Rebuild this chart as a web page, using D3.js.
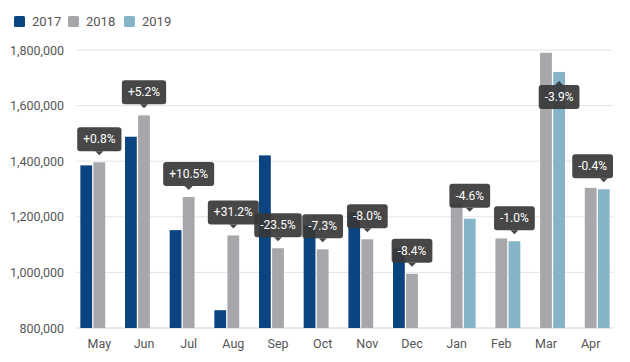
<!DOCTYPE html>
<html>
<head>
<meta charset="utf-8">
<script src="https://cdn.jsdelivr.net/npm/d3@7"></script>
<style>
  body { margin: 0; background: #fff; }
  svg { font-family: Roboto, "Noto Sans", sans-serif; }
</style>
</head>
<body>
<div id="chart"></div>
<script>
const months = ["May", "Jun", "Jul", "Aug", "Sep", "Oct", "Nov", "Dec", "Jan", "Feb", "Mar", "Apr"];
const years = ["2017", "2018", "2019"];
const colors = ["#0b4480", "#a7a7ab", "#85b4c9"];
// null = no bar for that month
const v2017 = [1385000, 1488000, 1152000, 864000, 1421000, 1169000, 1216000, 1086000, null, null, null, null];
const v2018 = [1396000, 1565000, 1271000, 1133000, 1087000, 1083000, 1119000, 995000, 1250000, 1122000, 1790000, 1304000];
const v2019 = [null, null, null, null, null, null, null, null, 1193000, 1112000, 1721000, 1299000];
const changes = ["+0.8%", "+5.2%", "+10.5%", "+31.2%", "-23.5%", "-7.3%", "-8.0%", "-8.4%", "-4.6%", "-1.0%", "-3.9%", "-0.4%"];
const yTicks = [800000, 1000000, 1200000, 1400000, 1600000, 1800000];

const W = 630, H = 362;
const margin = { top: 50, right: 17, bottom: 34, left: 77 };
const series = [v2017, v2018, v2019];

const svg = d3.select("#chart").append("svg")
  .attr("width", W).attr("height", H);

const x = d3.scaleBand().domain(months)
  .range([margin.left, W - margin.right]).paddingInner(0.15).paddingOuter(0.075);
const xs = d3.scaleBand().domain(years).range([0, x.bandwidth()]).paddingInner(0.1);
const y = d3.scaleLinear().domain([800000, 1800000])
  .range([H - margin.bottom, margin.top]);

// grid
svg.append("g").selectAll("line").data(yTicks).join("line")
  .attr("x1", margin.left).attr("x2", W - margin.right)
  .attr("y1", d => y(d)).attr("y2", d => y(d))
  .attr("stroke", d => d === 800000 ? "#d0d0d0" : "#e4e4e4").attr("stroke-width", 1);

const yAxis = svg.append("g")
  .attr("transform", `translate(${margin.left - 10},0)`)
  .call(d3.axisLeft(y).tickValues(yTicks).tickSize(0).tickFormat(d3.format(",")));
yAxis.select(".domain").remove();
yAxis.selectAll("text").attr("font-size", 12.5).attr("fill", "#555").attr("font-family", "Roboto, sans-serif");

const xAxis = svg.append("g")
  .attr("transform", `translate(0,${H - margin.bottom + 8})`)
  .call(d3.axisBottom(x).tickSize(0));
xAxis.select(".domain").remove();
xAxis.selectAll("text").attr("font-size", 12.5).attr("fill", "#555").attr("font-family", "Roboto, sans-serif");

// bars
const bars = [];
months.forEach((m, i) => {
  series.forEach((s, k) => {
    if (s[i] != null) bars.push({ month: m, year: years[k], k, value: s[i] });
  });
});
svg.append("g").selectAll("rect").data(bars).join("rect")
  .attr("x", d => x(d.month) + xs(d.year))
  .attr("width", xs.bandwidth())
  .attr("y", d => y(d.value))
  .attr("height", d => y(800000) - y(d.value))
  .attr("fill", d => colors[d.k]);

// change labels, attached to the latest bar in each month
const labels = svg.append("g");
months.forEach((m, i) => {
  const k = v2019[i] != null ? 2 : 1;
  const val = series[k][i];
  const cx = x(m) + xs(years[k]) + xs.bandwidth() / 2;
  const top = y(val);
  const bh = 24, gap = 11, tri = 4;
  const g = labels.append("g");
  const t = g.append("text").text(changes[i])
    .attr("font-size", 12).attr("fill", "#fff").attr("text-anchor", "middle")
    .attr("font-family", "Roboto, sans-serif");
  const tw = t.node().getComputedTextLength();
  const bw = tw + 12;
  let bx = cx - bw / 2;
  bx = Math.min(bx, W - margin.right - bw);
  bx = Math.max(bx, margin.left);
  let by = top - gap - bh;
  let flip = false;
  if (by < margin.top) { flip = true; by = top + gap + 2; }
  const col = "rgba(55,55,55,0.92)";
  g.insert("rect", "text")
    .attr("x", bx).attr("y", by).attr("width", bw).attr("height", bh)
    .attr("rx", 3).attr("fill", col);
  const ty = flip ? by : by + bh;
  const dir = flip ? -1 : 1;
  g.insert("path", "text")
    .attr("d", `M${cx - tri},${ty} L${cx},${ty + dir * tri} L${cx + tri},${ty} Z`)
    .attr("fill", col);
  t.attr("x", bx + bw / 2).attr("y", by + bh / 2 + 4);
});

// legend
const legend = svg.append("g").attr("transform", "translate(14,16)");
const lx = [0, 54, 110];
years.forEach((yr, k) => {
  legend.append("rect").attr("x", lx[k]).attr("y", 0).attr("width", 11).attr("height", 11)
    .attr("rx", 1.5).attr("fill", colors[k]);
  legend.append("text").attr("x", lx[k] + 18).attr("y", 10).text(yr)
    .attr("font-size", 13).attr("fill", "#555");
});
</script>
</body>
</html>
